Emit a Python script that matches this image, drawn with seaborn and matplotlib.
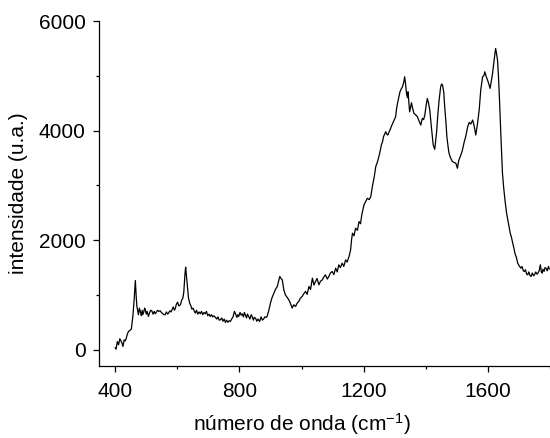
import matplotlib
matplotlib.use("Agg")
import matplotlib.pyplot as plt
from matplotlib.ticker import MultipleLocator
import seaborn as sns
import pandas as pd

wavenumber = [400, 403, 407, 411, 415, 418, 422, 425, 429, 432, 435, 439, 443, 447, 452, 457, 461, 465,
              468, 470, 473, 475, 478, 481, 484, 487, 489, 492, 495, 497, 500, 503, 507, 511, 515, 518,
              522, 526, 529, 533, 537, 541, 545, 549, 553, 557, 561, 565, 569, 572, 576, 580, 583, 587,
              591, 594, 597, 601, 605, 610, 614, 618, 621, 623, 625, 627, 630, 633, 636, 640, 644, 647,
              651, 655, 658, 662, 666, 670, 674, 678, 682, 686, 690, 694, 698, 702, 706, 710, 714, 718,
              723, 727, 731, 735, 739, 743, 747, 751, 755, 759, 763, 767, 771, 775, 780, 784, 788, 792,
              795, 798, 802, 806, 809, 813, 816, 819, 823, 826, 830, 834, 838, 841, 845, 848, 852, 856,
              860, 865, 870, 874, 878, 882, 886, 889, 894, 900, 905, 911, 916, 922, 926, 930, 934, 938,
              943, 948, 953, 959, 964, 970, 975, 981, 986, 991, 996, 1002, 1007, 1013, 1018, 1024, 1029,
              1035, 1040, 1045, 1050, 1056, 1061, 1067, 1072, 1077, 1083, 1088, 1093, 1099, 1104, 1110,
              1115, 1120, 1125, 1131, 1136, 1142, 1147, 1153, 1158, 1161, 1164, 1169, 1174, 1180, 1185,
              1190, 1194, 1198, 1201, 1206, 1212, 1218, 1223, 1228, 1234, 1239, 1244, 1249, 1253, 1257,
              1261, 1264, 1268, 1271, 1275, 1278, 1283, 1287, 1291, 1296, 1300, 1303, 1306, 1309, 1313,
              1317, 1321, 1325, 1329, 1332, 1335, 1338, 1341, 1343, 1346, 1348, 1351, 1354, 1358, 1362,
              1367, 1373, 1378, 1384, 1387, 1389, 1393, 1397, 1401, 1405, 1409, 1413, 1418, 1424, 1429,
              1435, 1439, 1443, 1448, 1451, 1454, 1458, 1461, 1465, 1468, 1472, 1475, 1480, 1486, 1491,
              1497, 1502, 1506, 1511, 1517, 1524, 1529, 1535, 1540, 1545, 1551, 1556, 1561, 1566, 1572,
              1577, 1583, 1587, 1590, 1595, 1599, 1603, 1607, 1611, 1615, 1620, 1623, 1625, 1628, 1631,
              1634, 1637, 1642, 1647, 1651, 1655, 1660, 1664, 1668, 1672, 1676, 1680, 1684, 1687, 1692,
              1696, 1701, 1706, 1710, 1714, 1717, 1721, 1725, 1728, 1732, 1735, 1739, 1743, 1747, 1750,
              1754, 1758, 1761, 1765, 1769, 1772, 1775, 1777, 1781, 1784, 1787, 1791, 1795, 1798]
intensity = [40, 10, 150, 90, 200, 170, 120, 60, 180, 160, 195, 280, 335, 350, 375, 607, 900, 1263,
             950, 790, 700, 638, 760, 700, 620, 720, 638, 690, 760, 730, 650, 700, 607, 680, 720, 711,
             650, 700, 656, 690, 720, 700, 711, 680, 660, 640, 638, 690, 650, 669, 710, 690, 730, 780,
             720, 760, 830, 868, 800, 820, 900, 942, 1050, 1216, 1400, 1507, 1320, 1155, 950, 850, 800, 741,
             760, 700, 669, 720, 650, 690, 656, 700, 640, 680, 656, 700, 620, 650, 607, 640, 600, 620,
             589, 560, 600, 540, 547, 580, 520, 560, 498, 540, 500, 530, 516, 560, 607, 700, 650, 590,
             640, 607, 680, 630, 656, 600, 680, 638, 580, 650, 607, 560, 640, 607, 540, 590, 577, 520,
             560, 516, 600, 540, 560, 600, 590, 607, 700, 850, 950, 1033, 1100, 1155, 1250, 1337, 1300, 1276,
             1094, 1003, 960, 912, 850, 760, 820, 790, 850, 881, 940, 972, 1020, 1064, 1010, 1155, 1100,
             1307, 1180, 1246, 1300, 1185, 1250, 1276, 1330, 1367, 1290, 1337, 1400, 1428, 1370, 1489,
             1420, 1550, 1500, 1580, 1520, 1641, 1600, 1702, 1823, 2000, 2127, 2080, 2218, 2180, 2339,
             2300, 2461, 2560, 2643, 2700, 2765, 2740, 2795, 2977, 3150, 3342, 3420, 3524, 3620, 3737,
             3800, 3889, 3940, 3980, 3930, 3919, 3990, 4041, 4100, 4162, 4210, 4253, 4400, 4496, 4600,
             4709, 4760, 4800, 4880, 4982, 4850, 4678, 4600, 4709, 4500, 4344, 4420, 4508, 4400, 4314,
             4290, 4253, 4180, 4101, 4180, 4223, 4200, 4284, 4450, 4587, 4500, 4375, 4071, 3737, 3659,
             3980, 4300, 4557, 4800, 4850, 4831, 4700, 4435, 4150, 3889, 3700, 3585, 3500, 3433, 3420,
             3403, 3312, 3450, 3524, 3620, 3798, 3900, 4071, 4150, 4120, 4193, 4080, 3919, 4100, 4375,
             4740, 4982, 5000, 5073, 4980, 4922, 4850, 4770, 4900, 5043, 5286, 5420, 5499, 5400, 5286,
             5000, 4618, 3889, 3220, 2950, 2734, 2500, 2370, 2250, 2127, 2050, 1945, 1850, 1762, 1680,
             1580, 1530, 1489, 1520, 1440, 1428, 1460, 1380, 1367, 1420, 1360, 1337, 1400, 1350, 1367,
             1420, 1380, 1398, 1440, 1550, 1420, 1398, 1470, 1430, 1500, 1489, 1440, 1520, 1470]

xticks = [400, 800, 1200, 1600]
yticks = [0, 2000, 4000, 6000]
xlabel = "número de onda (cm$^{-1}$)"
ylabel = "intensidade (u.a.)"

df = pd.DataFrame({"x": wavenumber, "y": intensity})

sns.set_style("ticks")
plt.rcParams["font.family"] = ["Liberation Sans", "DejaVu Sans"]
plt.rcParams["mathtext.fontset"] = "custom"
plt.rcParams["mathtext.rm"] = "Liberation Sans"
plt.rcParams["mathtext.it"] = "Liberation Sans:italic"
plt.rcParams["mathtext.bf"] = "Liberation Sans:bold"

fig = plt.figure(figsize=(5.5, 4.38), dpi=100)
ax = fig.add_axes([0.18, 0.164, 0.82, 0.788])

sns.lineplot(data=df, x="x", y="y", ax=ax, color="black", linewidth=0.9, sort=False)

ax.set_xlim(348, 1800)
ax.set_ylim(-300, 6000)
ax.set_xticks(xticks)
ax.set_yticks(yticks)
ax.xaxis.set_minor_locator(MultipleLocator(200))
ax.yaxis.set_minor_locator(MultipleLocator(1000))
ax.tick_params(axis="both", which="major", direction="out", length=4.5, width=0.9,
               labelsize=15, color="black", labelcolor="black")
ax.tick_params(axis="x", which="major", pad=7)
ax.tick_params(axis="y", which="major", pad=5)
ax.tick_params(axis="both", which="minor", direction="out", length=2.5, width=0.9, color="black")

sns.despine(ax=ax)
for s in ["left", "bottom"]:
    ax.spines[s].set_linewidth(0.9)
    ax.spines[s].set_color("black")

ax.set_xlabel(xlabel, fontsize=15, color="black")
ax.set_ylabel(ylabel, fontsize=15, color="black")
ax.xaxis.set_label_coords(0.45, -0.13)
ax.yaxis.set_label_coords(-0.157, 0.5)

fig.savefig("out.png", dpi=100)
